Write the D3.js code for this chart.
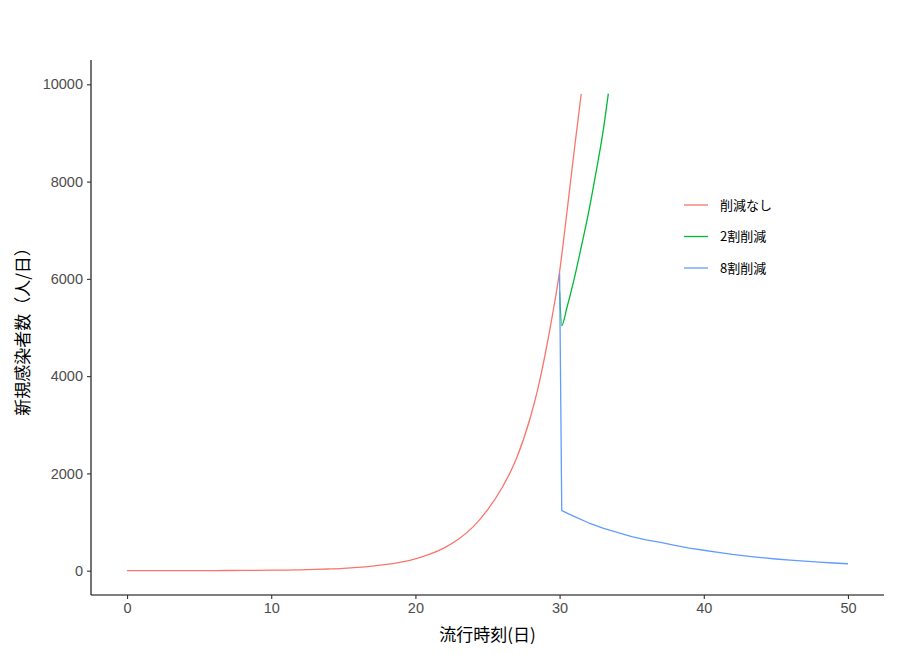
<!DOCTYPE html>
<html><head><meta charset="utf-8">
<script src="https://cdn.jsdelivr.net/npm/d3@7"></script>
<style>body{margin:0;background:#fff}svg{display:block}</style>
</head><body>
<script>
// ---- data ----
const redDays   = [0,1,2,3,4,5,6,7,8,9,10,11,12,13,14,15,16,17,18,19,20,21,22,23,24,25,26,27,28,28.5,29,29.5,30,30.5,31,31.5];
const redValues = [0.4,0.5,0.7,1,1.3,1.8,2.5,3.5,4.9,6.8,9.5,13,18,25,35,48,67,93,128,177,245,340,470,650,900,1250,1700,2300,3180,3750,4450,5250,6150,7350,8600,9800];
const greenDays   = [30,30.15,30.5,31,31.5,32,32.5,33,33.38];
const greenValues = [5740,5040,5400,5984,6650,7350,8150,9000,9809];
const blueDays   = [30,30.15,31,32,33,34,35,36,37,38,39,40,41,42,43,44,45,46,47,48,49,50];
const blueValues = [6120,1236,1115,985,875,790,700,635,580,520,465,420,378,335,300,270,240,215,195,175,158,143];
const seriesNames = ["削減なし","2割削減","8割削減"];
const seriesColors = ["#F8766D","#00BA38","#619CFF"];
const xTicks = [0,10,20,30,40,50];
const yTicks = [0,2000,4000,6000,8000,10000];
const xTitle = "流行時刻(日)";
const yTitle = "新規感染者数（人/日）";

const W=900,H=666;
const L=91,R=884,T=60,B=595;
const svg=d3.select("body").append("svg").attr("width",W).attr("height",H);
const x=d3.scaleLinear().domain([-2.5,52.5]).range([L,R]);
const y=d3.scaleLinear().domain([-500,10500]).range([B,T]);

const numFont='"Liberation Sans", Arial, sans-serif';
const jpFont='"Noto Sans CJK JP", sans-serif';

// axes
const xa=svg.append("g").attr("transform",`translate(0,${B})`)
  .call(d3.axisBottom(x).tickValues(xTicks).tickSize(4).tickPadding(4).tickFormat(d3.format("d")));
const ya=svg.append("g").attr("transform",`translate(${L},0)`)
  .call(d3.axisLeft(y).tickValues(yTicks).tickSize(4).tickPadding(4).tickFormat(d3.format("d")));
[xa,ya].forEach(a=>{
  a.select(".domain").attr("stroke","#000").attr("stroke-width",1.1);
  a.selectAll(".tick line").attr("stroke","#333").attr("stroke-width",1.1);
  a.selectAll(".tick text").attr("fill","#4D4D4D").style("font-family",numFont).style("font-size","14.5px");
});
xa.select(".domain").attr("d",`M${L},0H${R}`);
ya.select(".domain").attr("d",`M0,${T}V${B}`);

// lines
const series=[
  {d:redDays,v:redValues,c:d3.curveMonotoneX},
  {d:greenDays,v:greenValues,c:d3.curveMonotoneX},
  {d:blueDays,v:blueValues,c:d3.curveLinear}
];
series.forEach((s,i)=>{
  const line=d3.line().x(p=>x(p[0])).y(p=>y(p[1])).curve(s.c);
  svg.append("path").datum(s.d.map((d,j)=>[d,s.v[j]]))
    .attr("d",line).attr("fill","none").attr("stroke",seriesColors[i]).attr("stroke-width",1.3)
    .attr("stroke-linejoin","round");
});

// legend
const lg=svg.append("g");
seriesNames.forEach((n,i)=>{
  const yy=205+i*31.5;
  lg.append("line").attr("x1",684).attr("x2",708).attr("y1",yy).attr("y2",yy)
    .attr("stroke",seriesColors[i]).attr("stroke-width",1.3);
  lg.append("text").attr("x",720).attr("y",yy).attr("dy","0.35em")
    .style("font-family",jpFont).style("font-size","13px").attr("fill","#000").text(n);
});

// titles
svg.append("text").attr("x",(L+R)/2).attr("y",641).attr("text-anchor","middle")
  .style("font-family",jpFont).style("font-size","17px").attr("fill","#000").text(xTitle);
svg.append("text").attr("transform",`translate(29,${(T+B)/2}) rotate(-90)`).attr("text-anchor","middle")
  .style("font-family",jpFont).style("font-size","17px").attr("fill","#000").text(yTitle);
</script>
</body></html>
